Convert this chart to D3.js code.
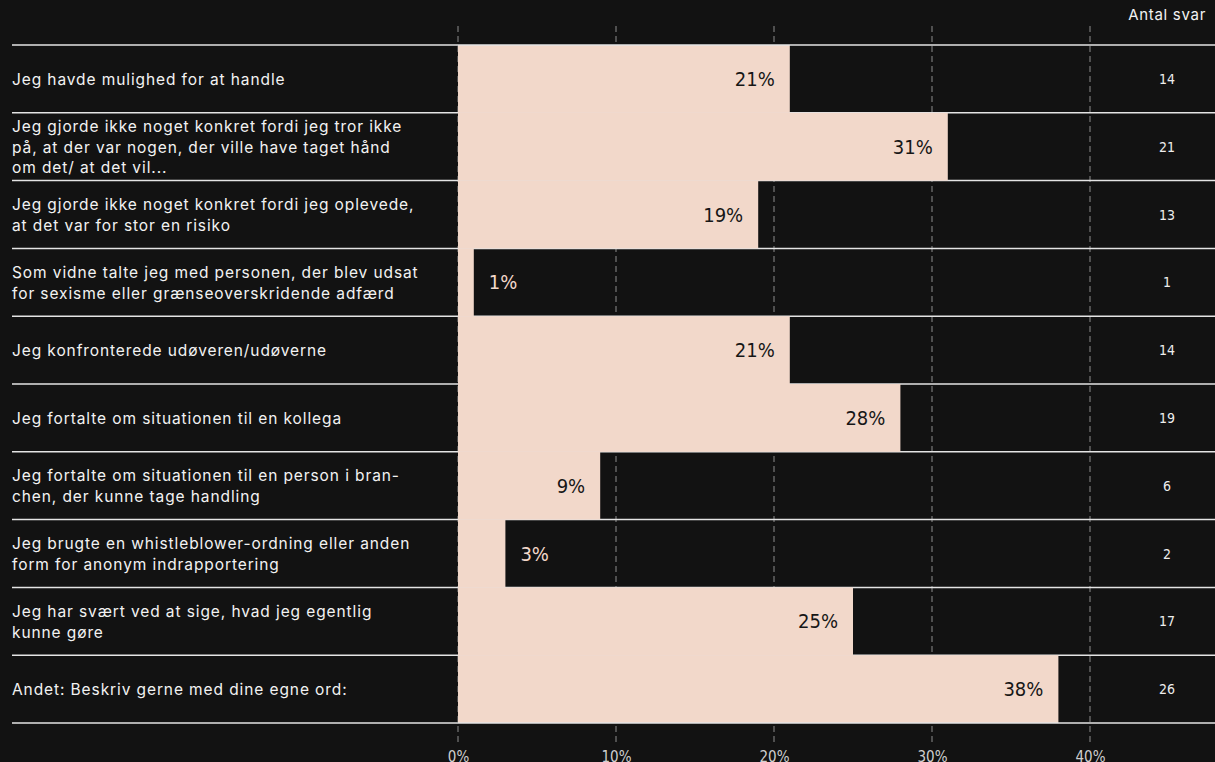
<!DOCTYPE html>
<html>
<head>
<meta charset="utf-8">
<script src="https://cdn.jsdelivr.net/npm/d3@7"></script>
<style>
  html, body { margin: 0; padding: 0; background: #121212; }
  svg { display: block; }
</style>
</head>
<body>
<svg id="chart" width="1215" height="762"></svg>
<script>
// Survey answers: what the respondent did
const categories = [
  ["Jeg havde mulighed for at handle"],
  ["Jeg gjorde ikke noget konkret fordi jeg tror ikke", "på, at der var nogen, der ville have taget hånd", "om det/ at det vil..."],
  ["Jeg gjorde ikke noget konkret fordi jeg oplevede,", "at det var for stor en risiko"],
  ["Som vidne talte jeg med personen, der blev udsat", "for sexisme eller grænseoverskridende adfærd"],
  ["Jeg konfronterede udøveren/udøverne"],
  ["Jeg fortalte om situationen til en kollega"],
  ["Jeg fortalte om situationen til en person i bran-", "chen, der kunne tage handling"],
  ["Jeg brugte en whistleblower-ordning eller anden", "form for anonym indrapportering"],
  ["Jeg har svært ved at sige, hvad jeg egentlig", "kunne gøre"],
  ["Andet: Beskriv gerne med dine egne ord:"]
];
const percentValues = [21, 31, 19, 1, 21, 28, 9, 3, 25, 38];
const answerCounts = [14, 21, 13, 1, 14, 19, 6, 2, 17, 26];
const tickValues = [0, 10, 20, 30, 40];
const countHeader = "Antal svar";

const W = 1215, H = 762;
const BG = "#121212", BAR = "#f2d8ca", LINE = "#e4e4e4", GRID = "#8c8c8c";
const labelFont = "Inter, 'Noto Sans', sans-serif";
const numFont = "'DejaVu Sans Condensed', 'DejaVu Sans', sans-serif";

const svg = d3.select("#chart");
svg.append("rect").attr("width", W).attr("height", H).attr("fill", BG);

const idx = d3.range(categories.length);
const x = d3.scaleLinear().domain([0, 40]).range([458, 1090]);
const y = d3.scaleBand().domain(idx).range([45, 723]).padding(0);

const rowLeft = 12, rowRight = W;
const gridTop = 26, gridBottom = 742;

// dashed vertical gridlines
svg.append("g").selectAll("line").data(tickValues).join("line")
  .attr("x1", d => x(d)).attr("x2", d => x(d))
  .attr("y1", gridTop).attr("y2", gridBottom)
  .attr("stroke", GRID).attr("stroke-width", 1)
  .attr("stroke-dasharray", "6,4");

// inner row separators
svg.append("g").selectAll("line").data(idx.slice(1)).join("line")
  .attr("x1", rowLeft).attr("x2", rowRight)
  .attr("y1", d => y(d)).attr("y2", d => y(d))
  .attr("stroke", LINE).attr("stroke-width", 1.5);

// bars
svg.append("g").selectAll("rect").data(idx).join("rect")
  .attr("x", x(0))
  .attr("y", d => y(d))
  .attr("width", d => x(percentValues[d]) - x(0))
  .attr("height", y.bandwidth())
  .attr("fill", BAR);

// outer separators (top and bottom)
svg.append("g").selectAll("line").data([45, 723]).join("line")
  .attr("x1", rowLeft).attr("x2", rowRight)
  .attr("y1", d => d).attr("y2", d => d)
  .attr("stroke", LINE).attr("stroke-width", 1.5);

// row labels
const lineH = 20.5;
const labels = svg.append("g").selectAll("text").data(idx).join("text")
  .attr("x", rowLeft)
  .attr("fill", "#f2f2f2")
  .attr("font-family", labelFont)
  .attr("font-size", 15.5)
  .attr("letter-spacing", "0.9px")
  .attr("dominant-baseline", "central");
labels.each(function(d) {
  const lines = categories[d];
  const cy = y(d) + y.bandwidth() / 2;
  const start = cy - (lines.length - 1) * lineH / 2;
  d3.select(this).selectAll("tspan").data(lines).join("tspan")
    .attr("x", rowLeft)
    .attr("y", (t, i) => start + i * lineH)
    .text(t => t);
});

// value labels
const minInside = 5;
svg.append("g").selectAll("text").data(idx).join("text")
  .attr("x", d => percentValues[d] >= minInside ? x(percentValues[d]) - 15 : x(percentValues[d]) + 15)
  .attr("y", d => y(d) + y.bandwidth() / 2)
  .attr("text-anchor", d => percentValues[d] >= minInside ? "end" : "start")
  .attr("dominant-baseline", "central")
  .attr("font-family", numFont)
  .attr("font-size", 20)
  .attr("fill", d => percentValues[d] >= minInside ? "#161616" : BAR)
  .text(d => percentValues[d] + "%");

// counts column
svg.append("text")
  .attr("x", 1206).attr("y", 14)
  .attr("text-anchor", "end").attr("dominant-baseline", "central")
  .attr("font-family", labelFont).attr("font-size", 15)
  .attr("letter-spacing", "0.7px")
  .attr("fill", "#f2f2f2")
  .text(countHeader);

svg.append("g").selectAll("text").data(idx).join("text")
  .attr("x", 1167)
  .attr("y", d => y(d) + y.bandwidth() / 2)
  .attr("text-anchor", "middle").attr("dominant-baseline", "central")
  .attr("font-family", numFont).attr("font-size", 14)
  .attr("fill", "#ededed")
  .text(d => answerCounts[d]);

// bottom axis labels
const axis = d3.axisBottom(x).tickValues(tickValues).tickFormat(d => d + "%").tickSize(0);
const ax = svg.append("g").attr("transform", "translate(0,748)").call(axis);
ax.select(".domain").remove();
ax.selectAll("text")
  .attr("font-family", numFont).attr("font-size", 15)
  .attr("fill", "#cfcfcf").attr("dy", "0.71em").attr("y", 3);
</script>
</body>
</html>
